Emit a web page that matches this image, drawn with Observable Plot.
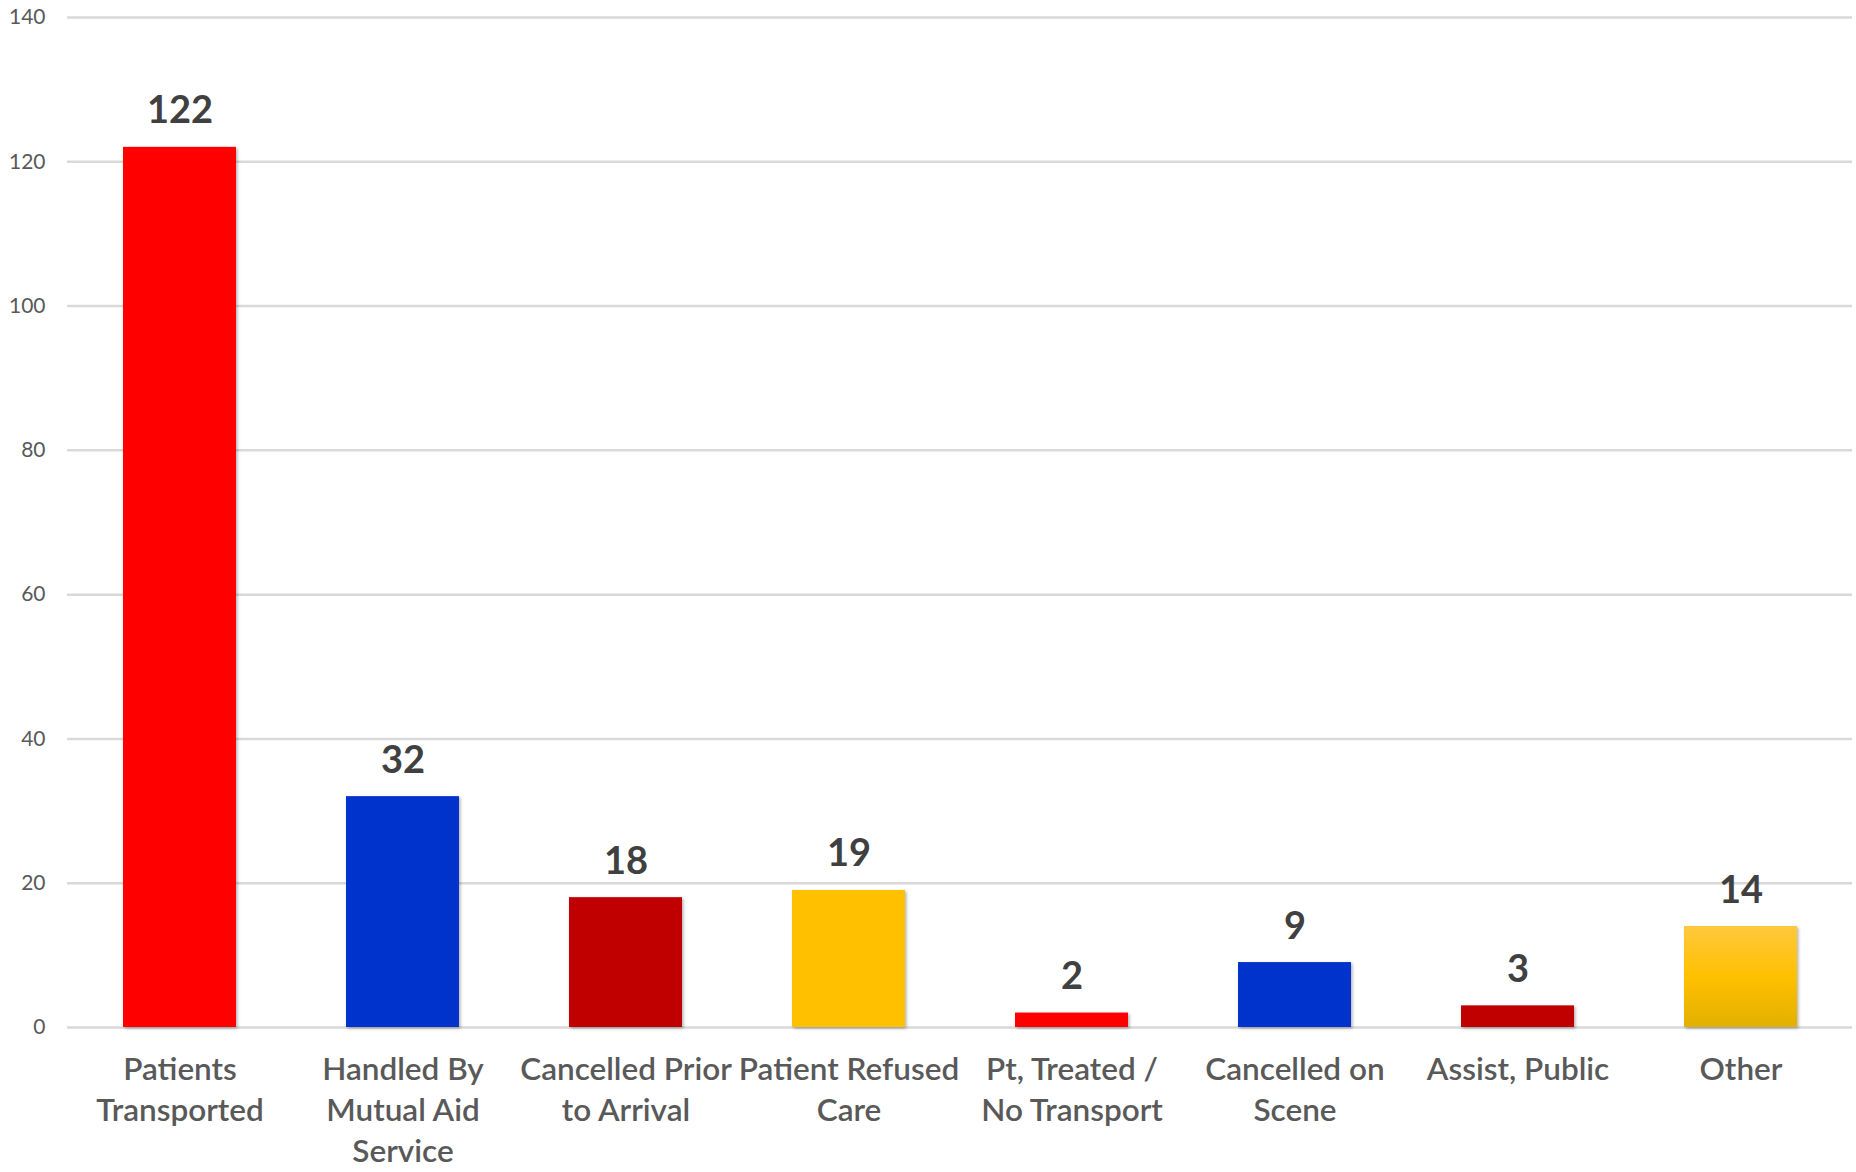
<!DOCTYPE html>
<html>
<head>
<meta charset="utf-8">
<script src="https://cdn.jsdelivr.net/npm/d3@7"></script>
<script src="https://cdn.jsdelivr.net/npm/@observablehq/plot@0.6"></script>
<style>
  html, body { margin: 0; padding: 0; background: #fff; }
  #chart { width: 1856px; height: 1172px; }
</style>
</head>
<body>
<div id="chart"></div>
<script>
const categories = [
  "Patients Transported",
  "Handled By Mutual Aid Service",
  "Cancelled Prior to Arrival",
  "Patient Refused Care",
  "Pt, Treated / No Transport",
  "Cancelled on Scene",
  "Assist, Public",
  "Other"
];
const values = [122, 32, 18, 19, 2, 9, 3, 14];
const tickLabels = [
  "Patients\nTransported",
  "Handled By\nMutual Aid\nService",
  "Cancelled Prior\nto Arrival",
  "Patient Refused\nCare",
  "Pt, Treated /\nNo Transport",
  "Cancelled on\nScene",
  "Assist, Public",
  "Other"
];
const yTicks = [0, 20, 40, 60, 80, 100, 120, 140];

// style (not data)
const barColors = ["#FF0000", "#0033CC", "#C00000", "#FFC000", "#FF0000", "#0033CC", "#C00000", "url(#goldGradient)"];

const rows = categories.map((c, i) => ({category: c, value: values[i], color: barColors[i]}));
const labelOf = new Map(categories.map((c, i) => [c, tickLabels[i]]));

const defs = () => {
  const ns = "http://www.w3.org/2000/svg";
  const d = document.createElementNS(ns, "defs");
  d.innerHTML = `
    <linearGradient id="goldGradient" x1="0" y1="0" x2="0" y2="1">
      <stop offset="0%" stop-color="#FFC83D"/>
      <stop offset="50%" stop-color="#FFC000"/>
      <stop offset="100%" stop-color="#E2B000"/>
    </linearGradient>
    <filter id="barShadow" x="-10%" y="-10%" width="130%" height="130%">
      <feDropShadow dx="1.5" dy="1.5" stdDeviation="1.5" flood-color="#000" flood-opacity="0.3"/>
    </filter>`;
  return d;
};

const chart = Plot.plot({
  width: 1856,
  height: 1172,
  marginLeft: 67,
  marginRight: 4,
  marginTop: 17,
  marginBottom: 145,
  style: {fontFamily: "Lato, 'Open Sans', sans-serif", background: "#fff"},
  x: {domain: categories, paddingInner: 0.495, paddingOuter: 0.2475, label: null},
  y: {domain: [0, 140], label: null},
  color: {type: "identity"},
  marks: [
    defs,
    Plot.gridY(yTicks, {stroke: "#d9d9d9", strokeOpacity: 1, strokeWidth: 2.5}),
    Plot.axisY(yTicks, {
      tickSize: 0, tickPadding: 22, fontSize: 21, fill: "#595959", label: null
    }),
    Plot.axisX({
      tickSize: 0, tickPadding: 23, fontSize: 31.5, fontWeight: 600, fill: "#595959", lineHeight: 1.31,
      tickFormat: (d) => labelOf.get(d), label: null
    }),
    Plot.barY(rows, {x: "category", y: "value", fill: "color"}),
    Plot.text(rows, {
      x: "category", y: "value", text: (d) => String(d.value),
      lineAnchor: "bottom", dy: -24, fontSize: 38, fontWeight: "bold", fill: "#404040"
    })
  ]
});

chart.querySelectorAll("g[aria-label='bar'] rect").forEach(r => r.setAttribute("filter", "url(#barShadow)"));
document.getElementById("chart").appendChild(chart);
</script>
</body>
</html>
